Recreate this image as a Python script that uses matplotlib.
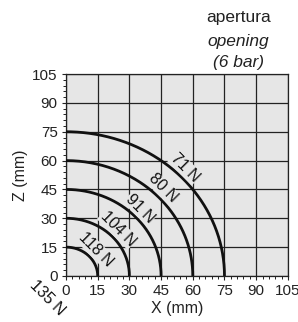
import numpy as np
import matplotlib
matplotlib.use("Agg")
import matplotlib.pyplot as plt

plt.rcParams['font.family'] = ['Liberation Sans', 'DejaVu Sans']

# opening radius (mm) and gripping force (N)
radii = [15, 30, 45, 60, 75]
forces = [118, 104, 91, 80, 71]
center_force = 135
ticks = [0, 15, 30, 45, 60, 75, 90, 105]

fig = plt.figure(figsize=(2.98, 3.22), dpi=100)
ax = fig.add_axes([0.2215, 0.143, 0.7445, 0.627])
ax.set_facecolor('#e6e6e6')

theta = np.linspace(0, np.pi / 2, 200)
for r, f in zip(radii, forces):
    ax.plot(r * np.cos(theta), r * np.sin(theta), color='#111111', lw=2.0,
            solid_capstyle='butt', zorder=3)
    p = r / np.sqrt(2) + 3.3
    ax.text(p, p, f"{f} N", rotation=-45, ha='center', va='center',
            fontsize=11.5, color='#111111', zorder=4,
            bbox=dict(facecolor='#e6e6e6', edgecolor='none', pad=0.3))

ax.text(-9, -11.5, f"{center_force} N", rotation=-45, ha='center', va='center',
        fontsize=11.5, color='#111111', clip_on=False)

ax.set_xlim(0, 105)
ax.set_ylim(0, 105)
ax.set_xticks(ticks)
ax.set_yticks(ticks)
ax.set_xticks(np.arange(0, 106, 3), minor=True)
ax.set_yticks(np.arange(0, 106, 3), minor=True)
ax.grid(True, which='major', color='#222222', lw=0.9, zorder=1)
ax.set_axisbelow(True)
ax.tick_params(which='both', direction='out', labelsize=11, colors='#222222', pad=3)
ax.tick_params(which='major', length=3, width=0.8)
ax.tick_params(which='minor', length=2.5, width=0.7)
for s in ax.spines.values():
    s.set_color('#222222')
    s.set_linewidth(0.9)

ax.set_xlabel('X (mm)', fontsize=11.5, labelpad=2, color='#222222')
ax.set_ylabel('Z (mm)', fontsize=11.5, labelpad=3, color='#222222')

fig.text(0.80, 0.945, 'apertura', ha='center', va='center', fontsize=12.5, color='#222222')
fig.text(0.80, 0.872, 'opening', ha='center', va='center', fontsize=12.5,
         style='italic', color='#222222')
fig.text(0.80, 0.805, '(6 bar)', ha='center', va='center', fontsize=12.5,
         style='italic', color='#222222')

fig.savefig('out.png', dpi=100)
